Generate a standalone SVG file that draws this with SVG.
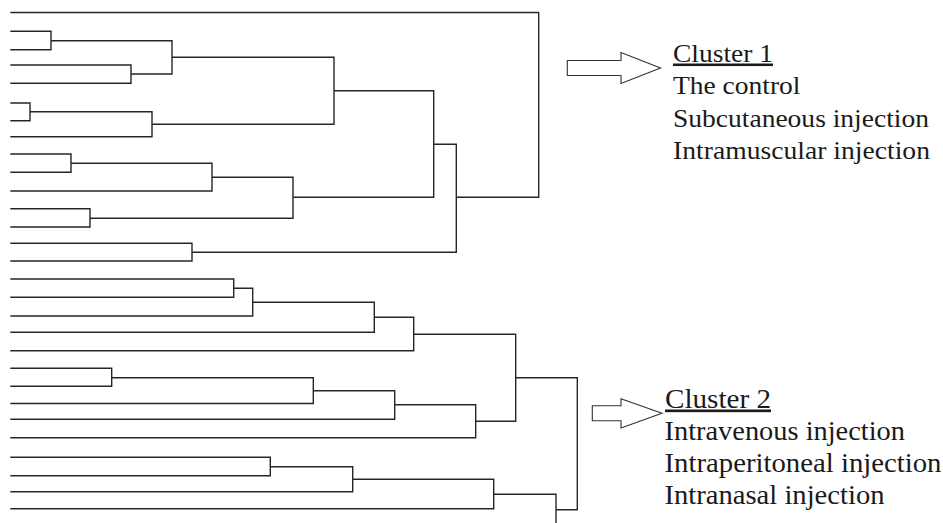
<svg xmlns="http://www.w3.org/2000/svg" width="943" height="523" viewBox="0 0 943 523">
<style>
.br{fill:none;stroke:#262626;stroke-width:1.4;stroke-linecap:square}
.ar{fill:#fff;stroke:#333;stroke-width:1.1;stroke-linejoin:miter}
.t{font-family:"Liberation Serif","Times New Roman",serif;fill:#1a1a1a}
.t1{font-size:25.5px}
.t2{font-size:26.5px}
.ul{text-decoration:underline}
</style>
<rect width="943" height="523" fill="#fff"/>
<g id="connectors">
<g id="dendrogram-cluster1">
<path class="br" d="M11 12.5 H538.7 V197.3 H456.3
M11 31.3 H51 V49.7 H11 M51 40.7 H172 V74 H131
M11 65 H131 V83.3 H11
M172 57.3 H334
M11 103 H30 V120.7 H11 M30 111.7 H152
M11 136.7 H152 V111.7
M152 124.3 H334 V57.3
M334 90.7 H433.7
M11 154 H71 V172.3 H11 M71 163.3 H212
M11 191 H212 V163.3
M212 177.3 H293
M11 208.7 H90 V227 H11 M90 218.3 H293 V177.3
M293 197.3 H433.7 V90.7
M433.7 144.3 H456.3
M11 243.3 H192 V261 H11 M192 252.3 H456.3 V144.3"/>
</g>
<g id="dendrogram-cluster2">
<path class="br" d="M11 279 H233.7 V297.3 H11 M233.7 288.3 H252.7
M11 316 H252.7 V288.3
M252.7 302.3 H374.3
M11 332.3 H374.3 V302.3
M374.3 317.3 H413.7
M11 350.7 H413.7 V317.3
M413.7 334.3 H515.7
M11 368.3 H111.7 V386.3 H11 M111.7 377.7 H313.3
M11 403.5 H313.3 V377.7
M313.3 390.7 H394.7
M11 419.2 H394.7 V390.7
M394.7 404.7 H475.7
M11 437.7 H475.7 V404.7
M475.7 421.3 H515.7 V334.3
M515.7 377.7 H577.3 V509.7 H556
M11 457.3 H270.3 V475.7 H11 M270.3 466.7 H352.7
M11 491.7 H352.7 V466.7
M352.7 479.3 H493.7
M11 508.7 H493.7 V479.3
M493.7 494.3 H556 V524"/>
</g>
<g id="arrow1">
<path class="ar" d="M567.3 60.5 H621 V52.5 L660.5 68 L621 83.5 V75.5 H567.3 Z"/>
</g>
<g id="arrow2">
<path class="ar" d="M592.3 405.8 H621 V398.8 L662 413.3 L621 428 V420.8 H592.3 Z"/>
</g>
</g>
<g id="cluster1-label">
<text class="t t1 ul" x="673" y="61.5" textLength="100" lengthAdjust="spacingAndGlyphs">Cluster 1</text>
<text class="t t1" x="673" y="94" textLength="127.5" lengthAdjust="spacingAndGlyphs">The control</text>
<text class="t t1" x="673" y="126.5" textLength="256" lengthAdjust="spacingAndGlyphs">Subcutaneous injection</text>
<text class="t t1" x="673" y="159" textLength="257" lengthAdjust="spacingAndGlyphs">Intramuscular injection</text>
</g>
<g id="cluster2-label">
<text class="t t2 ul" x="665" y="407.5" textLength="106" lengthAdjust="spacingAndGlyphs">Cluster 2</text>
<text class="t t2" x="664.5" y="439.7" textLength="240.5" lengthAdjust="spacingAndGlyphs">Intravenous injection</text>
<text class="t t2" x="664.5" y="472" textLength="277" lengthAdjust="spacingAndGlyphs">Intraperitoneal injection</text>
<text class="t t2" x="664.5" y="504.2" textLength="220" lengthAdjust="spacingAndGlyphs">Intranasal injection</text>
</g>
</svg>
